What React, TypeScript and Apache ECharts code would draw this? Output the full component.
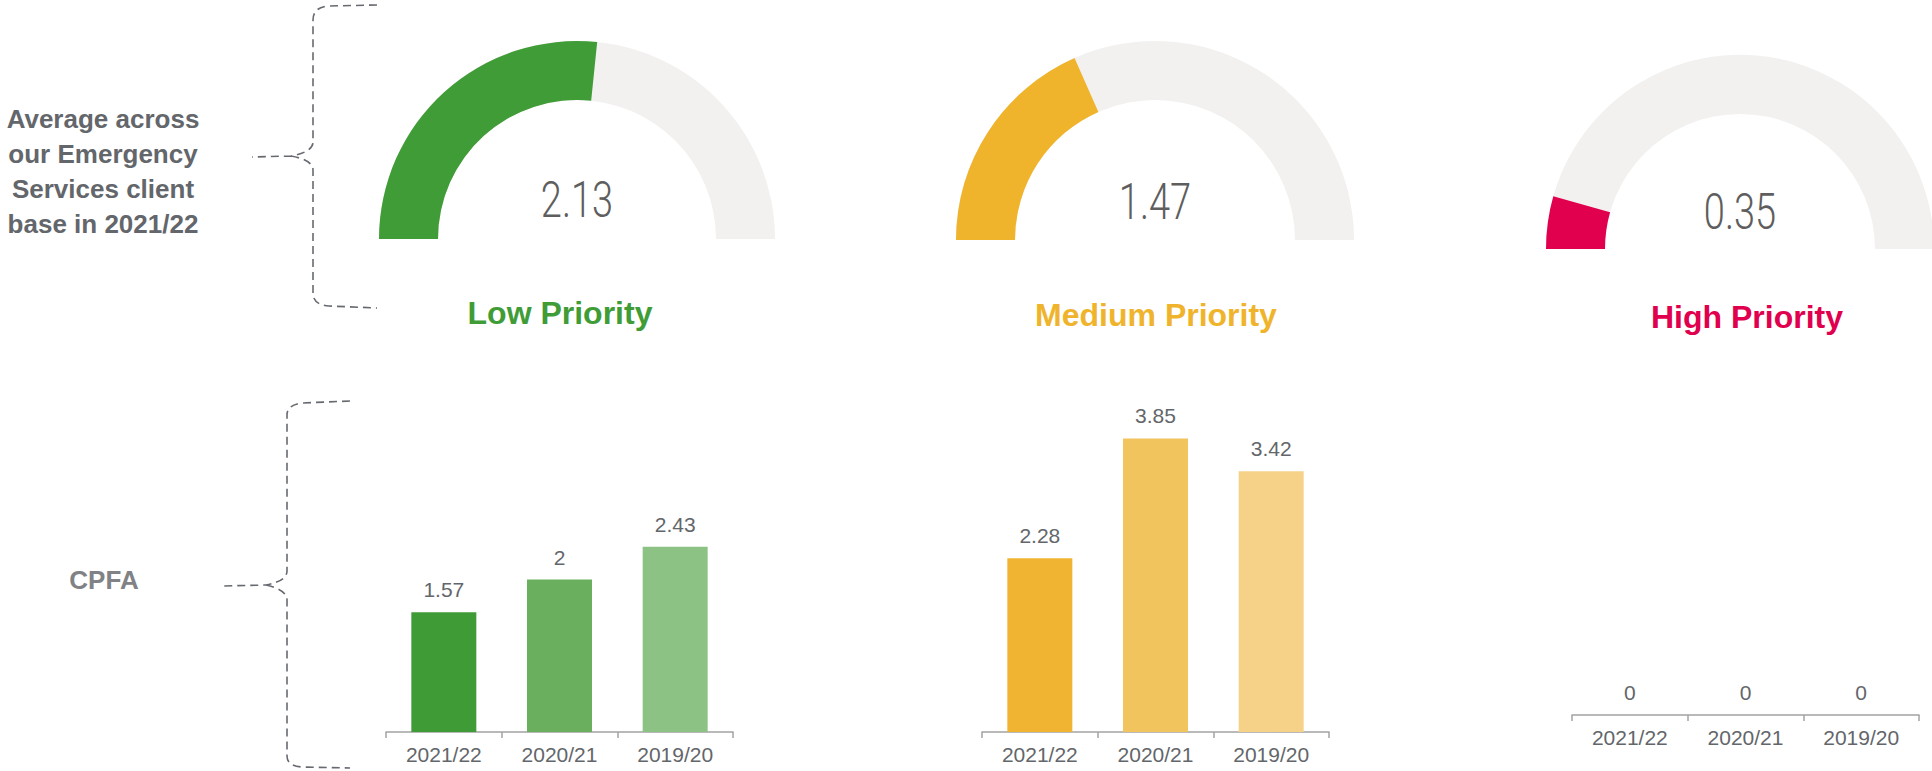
import React, { useEffect, useRef } from "react";
import * as echarts from "echarts";

// ---- data ----
const gaugeNames = ["Low Priority", "Medium Priority", "High Priority"];
const gaugeValues = [2.13, 1.47, 0.35];
const gaugeMax = 4;
const years = ["2021/22", "2020/21", "2019/20"];
const lowValues = [1.57, 2, 2.43];
const mediumValues = [2.28, 3.85, 3.42];
const highValues = [0, 0, 0];
const sideLabels = ["Average across\nour Emergency\nServices client\nbase in 2021/22", "CPFA"];

// ---- styles ----
const priorityColors = ["#409c36", "#efb42c", "#e0004d"];
const trackColor = "#f2f1f0";
const lowBarColors = ["#3f9b35", "#6aaf5d", "#8cc385"];
const mediumBarColors = ["#f0b432", "#f2c45e", "#f5d288"];
const highBarColors = ["#e0004d", "#e84d7f", "#ef80a5"];
const gaugeGeom = [
  { c: [577, 239], r: 198, title: [-17, 74], valueY: 200 },
  { c: [1155, 240], r: 199, title: [1, 75], valueY: 202 },
  { c: [1740, 249], r: 194, title: [7, 68], valueY: 212 },
];
const gridGeom = [
  { left: 386, top: 427 },
  { left: 982, top: 427 },
  { left: 1572, top: 410 },
];
const FONT = "'Liberation Sans', Arial, sans-serif";
const braceColor = "#666a70";

const brace1 =
  "M377,5 L329,6 Q313,7 313,20 L313,142 Q313,152 291,156 L252,157 M291,156 Q313,160 313,170 L313,293 Q313,305 329,306 L377,308";
const brace2 =
  "M350,401 L302,403 Q287,405 287,415 L287,571 Q287,581 266,585 L223,586 M266,585 Q287,590 287,600 L287,756 Q287,766 302,767 L350,768";

let registered = false;
function registerShapes() {
  if (registered) return;
  registered = true;
  echarts.graphic.registerShape("brace1", echarts.graphic.extendPath(brace1, {}) as any);
  echarts.graphic.registerShape("brace2", echarts.graphic.extendPath(brace2, {}) as any);
}

export default function App() {
  const ref = useRef<HTMLDivElement>(null);
  useEffect(() => {
    if (!ref.current) return;
    registerShapes();
    const chart = echarts.init(ref.current, undefined, { renderer: "svg" });

    const gaugeSeries = gaugeValues.map((v, i) => ({
      type: "gauge",
      center: gaugeGeom[i].c,
      radius: gaugeGeom[i].r,
      startAngle: 180,
      endAngle: 0,
      min: 0,
      max: gaugeMax,
      progress: { show: true, width: 59, itemStyle: { color: priorityColors[i] } },
      axisLine: { lineStyle: { width: 59, color: [[1, trackColor]] } },
      pointer: { show: false },
      anchor: { show: false },
      axisTick: { show: false },
      splitLine: { show: false },
      axisLabel: { show: false },
      title: {
        show: true,
        offsetCenter: gaugeGeom[i].title,
        fontSize: 32,
        fontWeight: "bold",
        fontFamily: FONT,
        color: priorityColors[i],
      },
      detail: { show: false },
      data: [{ value: v, name: gaugeNames[i] }],
    }));

    const barSets = [
      { vals: lowValues, colors: lowBarColors },
      { vals: mediumValues, colors: mediumBarColors },
      { vals: highValues, colors: highBarColors },
    ];

    const barSeries = barSets.map((s, i) => ({
      type: "bar",
      xAxisIndex: i,
      yAxisIndex: i,
      barWidth: 65,
      data: s.vals.map((v, j) => ({ value: v, itemStyle: { color: s.colors[j] } })),
      label: {
        show: true,
        position: "top",
        distance: 12,
        fontSize: 21,
        fontFamily: FONT,
        color: "#63666a",
      },
    }));

    const valueTexts = gaugeValues.map((v, i) => ({
      type: "text",
      x: gaugeGeom[i].c[0],
      y: gaugeGeom[i].valueY,
      scaleX: 0.76,
      style: {
        text: String(v),
        fontSize: 50,
        fontWeight: 300,
        fontFamily: "Roboto, sans-serif",
        fill: "#5e5e5e",
        align: "center",
        verticalAlign: "middle",
      },
    }));

    chart.setOption({
      animation: false,
      backgroundColor: "#ffffff",
      grid: gridGeom.map((g) => ({ left: g.left, top: g.top, width: 347, height: 305 })),
      xAxis: gridGeom.map((_, i) => ({
        type: "category",
        gridIndex: i,
        data: years,
        axisLine: { lineStyle: { color: "#a3a3a3", width: 1.5 } },
        axisTick: { show: true, length: 6, lineStyle: { color: "#a3a3a3", width: 1.5 } },
        axisLabel: { fontSize: 21, fontFamily: FONT, color: "#63666a", margin: 12, interval: 0 },
      })),
      yAxis: gridGeom.map((_, i) => ({
        type: "value",
        gridIndex: i,
        min: 0,
        max: 4,
        show: false,
        splitLine: { show: false },
      })),
      series: [...gaugeSeries, ...barSeries],
      graphic: [
        {
          type: "text",
          x: 103,
          y: 171,
          style: {
            text: sideLabels[0],
            fontSize: 26,
            fontWeight: "bold",
            fontFamily: FONT,
            fill: "#63666a",
            align: "center",
            verticalAlign: "middle",
            lineHeight: 35,
          },
        },
        {
          type: "text",
          x: 104,
          y: 580,
          style: {
            text: sideLabels[1],
            fontSize: 26,
            fontWeight: "bold",
            fontFamily: FONT,
            fill: "#808285",
            align: "center",
            verticalAlign: "middle",
          },
        },
        {
          type: "brace1",
          x: 0,
          y: 0,
          style: { stroke: braceColor, fill: "none", lineWidth: 1.6, lineDash: [8, 5] },
        },
        {
          type: "brace2",
          x: 0,
          y: 0,
          style: { stroke: braceColor, fill: "none", lineWidth: 1.6, lineDash: [8, 5] },
        },
        ...valueTexts,
      ],
    });
    return () => chart.dispose();
  }, []);
  return (
    <div
      ref={ref}
      style={{ position: "absolute", left: 0, top: 0, width: 1932, height: 771 }}
    />
  );
}
